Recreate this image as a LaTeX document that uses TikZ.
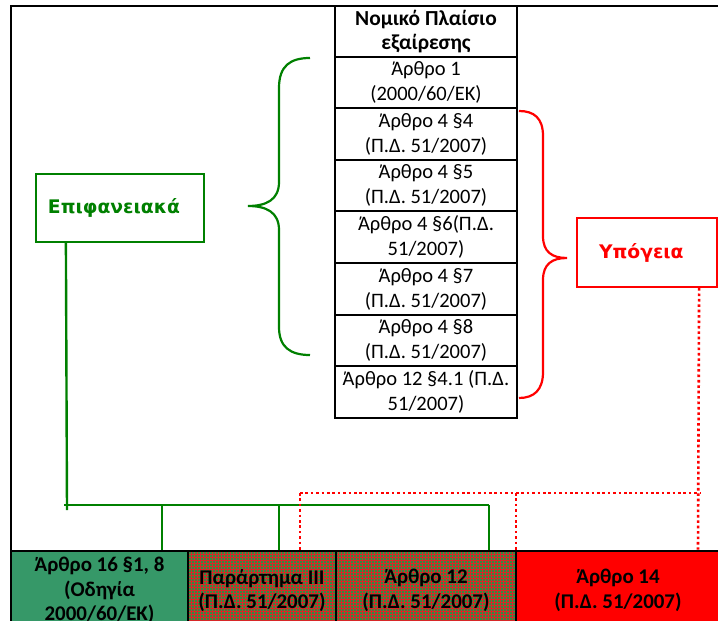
\documentclass[tikz,border=0pt]{standalone}
\usepackage{fontspec}
\setmainfont{Carlito}
\newfontfamily\verd{DejaVu Sans}
\definecolor{dgreen}{RGB}{0,128,0}
\definecolor{sgreen}{RGB}{54,152,104}
\definecolor{pgreen}{RGB}{50,140,65}
\definecolor{pred}{RGB}{215,40,40}
\begin{document}
\begin{tikzpicture}[x=1bp,y=-1bp,
  frame/.style={line width=2.2bp, black},
  tcell/.style={draw, line width=1.6bp, minimum width=182bp, minimum height=51.5bp, inner sep=0pt, align=center, font=\fontsize{20.6}{25}\selectfont},
  bcell/.style={draw, line width=2.6bp, minimum height=79bp, inner sep=0pt, align=center, font=\fontsize{21}{24.5}\selectfont\bfseries},
  meshline/.style={draw=pred, line width=0.5bp},
  gline/.style={draw=dgreen, line width=2.4bp},
  rdot/.style={draw=red, line width=2.6bp, dash pattern=on 2.6bp off 2.8bp},
  gbox/.style={draw=dgreen, line width=2.2bp, text=dgreen, align=left, font=\verd\fontsize{18.8}{21}\selectfont\bfseries},
  rbox/.style={draw=red, line width=2.2bp, text=red, align=left, font=\verd\fontsize{18.8}{21}\selectfont\bfseries}]
\useasboundingbox (0,0) rectangle (718,621);
\fill[white] (0,0) rectangle (718,621);

% mesh fill behind the two middle cells
\fill[pgreen] (188,551) rectangle (516,630);
\foreach \i in {188.5,191.5,...,516} \draw[meshline] (\i,551) -- (\i,630);
\foreach \j in {551.5,554.5,...,630} \draw[meshline] (188,\j) -- (516,\j);

% bottom cells
\node[bcell, fill=sgreen, minimum width=177bp] (c1) at (99.5,590.5) {Άρθρο 16 §1, 8\\(Οδηγία\\2000/60/ΕΚ)};
\node[bcell, minimum width=148bp] (c2) at (262,590.5) {Παράρτημα ΙΙΙ\\(Π.Δ. 51/2007)};
\node[bcell, minimum width=180bp] (c3) at (426,590.5) {Άρθρο 12\\(Π.Δ. 51/2007)};
\node[bcell, fill=red, minimum width=204bp] (c4) at (618,590.5) {Άρθρο 14\\(Π.Δ. 51/2007)};

% frame
\draw[frame] (11,640) -- (11,6) -- (718,6);

% table
\node[tcell, font=\fontsize{21.5}{25}\selectfont\bfseries] (t0) at (426,31.5) {Νομικό Πλαίσιο\\εξαίρεσης};
\node[tcell] (t1) at (426,82.5) {Άρθρο 1\\(2000/60/ΕΚ)};
\node[tcell] (t2) at (426,134) {Άρθρο 4 §4\\(Π.Δ. 51/2007)};
\node[tcell] (t3) at (426,185.5) {Άρθρο 4 §5\\(Π.Δ. 51/2007)};
\node[tcell] (t4) at (426,237) {Άρθρο 4 §6(Π.Δ.\\51/2007)};
\node[tcell] (t5) at (426,289) {Άρθρο 4 §7\\(Π.Δ. 51/2007)};
\node[tcell] (t6) at (426,340.5) {Άρθρο 4 §8\\(Π.Δ. 51/2007)};
\node[tcell] (t7) at (426,392) {Άρθρο 12 §4.1 (Π.Δ.\\51/2007)};

% category boxes
\node[gbox, minimum height=68bp, inner xsep=12bp, text width=144bp] (epi) at (120,208) {Επιφανειακά};
\node[rbox, minimum height=69bp, inner xsep=22bp, text width=96bp] (ypo) at (647,252.5) {Υπόγεια};

% braces
\draw[dgreen, line width=2.2bp] (310,58) .. controls (290,58) and (279,66) .. (279,88) -- (279,182)
  .. controls (279,200) and (266,206) .. (248,206)
  .. controls (266,206) and (279,212) .. (279,230) -- (279,327)
  .. controls (279,347) and (290,355) .. (310,355);
\draw[red, line width=2.2bp] (519,111) .. controls (534,111) and (543,118) .. (543,136) -- (543,236)
  .. controls (543,252) and (552,258) .. (567,258)
  .. controls (552,258) and (543,264) .. (543,280) -- (543,372)
  .. controls (543,390) and (534,398) .. (519,398);

% green connectors
\coordinate (gj) at (67,505);
\coordinate (gs) at (64,505);
\coordinate (g1) at (162,505);
\coordinate (g2) at (279,505);
\coordinate (g3) at (489,505);
\draw[gline] ([xshift=31bp]epi.south west) -- ([yshift=-5bp]gj);
\draw[gline] (gs) -- (g3);
\draw[gline] (g1) -- (g1 |- c1.north);
\draw[gline] (g2) -- (g2 |- c2.north);
\draw[gline] (g3) -- (g3 |- c3.north);

% red dotted connectors
\coordinate (r0) at (698,493);
\coordinate (r1) at (300,493);
\coordinate (r2) at (516,493);
\draw[rdot] ([xshift=-19bp]ypo.south east) -- (r0 |- c4.north);
\draw[rdot] (r1) -- ([xshift=2bp]r0);
\draw[rdot] (r1) -- (r1 |- c2.north);
\draw[rdot] (r2) -- (r2 |- c3.north);
\end{tikzpicture}
\end{document}
